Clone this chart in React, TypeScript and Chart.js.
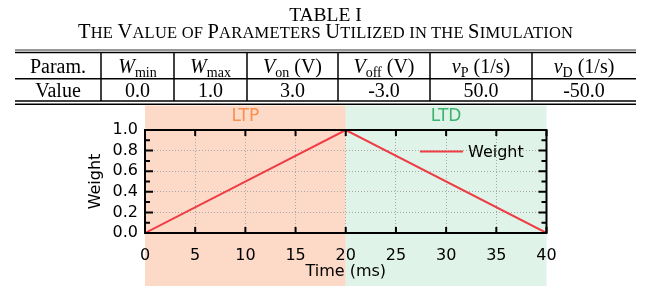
import React, { useEffect, useRef } from 'react';
import { Chart, registerables } from 'chart.js';

Chart.register(...registerables);

// ---------- data ----------
const timeMs = [0, 20, 40];
const weight = [0, 1, 0];
const seriesLabel = 'Weight';
const phaseNames = ['LTP', 'LTD'];
const phaseStart = [0, 20];
const phaseEnd = [20, 40];
const xTitle = 'Time (ms)';
const yTitle = 'Weight';

const tableTitle = 'TABLE I';
const tableCaption = 'The Value of Parameters Utilized in the Simulation';
const rowHeaderParam = 'Param.';
const rowHeaderValue = 'Value';
const paramSymbols = ['W', 'W', 'V', 'V', 'v', 'v'];
const paramSubs = ['min', 'max', 'on', 'off', 'P', 'D'];
const paramUnits = ['', '', ' (V)', ' (V)', ' (1/s)', ' (1/s)'];
const paramValues = [0.0, 1.0, 3.0, -3.0, 50.0, -50.0];

// ---------- styles ----------
const phaseFill = ['#fdd9c7', '#dff3e8'];
const phaseTextColor = ['#f8914f', '#3db46f'];
const lineColor = '#ee3d45';
const sans = "'DejaVu Sans', sans-serif";
const serif = "'Liberation Serif', 'Times New Roman', serif";

const decorPlugin = {
  id: 'decor',
  beforeDraw(chart: any) {
    const { ctx, chartArea, scales } = chart;
    const x = scales.x;
    ctx.save();
    const shadeTop = chartArea.top - 24.5;
    phaseNames.forEach((name, i) => {
      const x0 = x.getPixelForValue(phaseStart[i]);
      const x1 = x.getPixelForValue(phaseEnd[i]);
      ctx.fillStyle = phaseFill[i];
      ctx.fillRect(x0, shadeTop, x1 - x0, chart.height - shadeTop);
      ctx.fillStyle = phaseTextColor[i];
      ctx.font = `17px ${sans}`;
      ctx.textAlign = 'center';
      ctx.textBaseline = 'middle';
      ctx.fillText(name, (x0 + x1) / 2, chartArea.top - 13);
    });
    ctx.restore();
  },
  afterDatasetsDraw(chart: any) {
    const { ctx, chartArea, scales } = chart;
    const { left, right, top, bottom } = chartArea;
    const x = scales.x;
    const y = scales.y;
    ctx.save();
    ctx.strokeStyle = '#000';
    ctx.lineWidth = 2;
    ctx.beginPath();
    x.ticks.forEach((t: any) => {
      const px = x.getPixelForValue(t.value);
      ctx.moveTo(px, bottom);
      ctx.lineTo(px, bottom - 6);
      ctx.moveTo(px, top);
      ctx.lineTo(px, top + 6);
    });
    const yt = y.ticks.map((t: any) => t.value);
    yt.forEach((v: number, i: number) => {
      const py = y.getPixelForValue(v);
      ctx.moveTo(left, py);
      ctx.lineTo(left + 8, py);
      ctx.moveTo(right, py);
      ctx.lineTo(right - 8, py);
      if (i < yt.length - 1) {
        const pm = y.getPixelForValue((v + yt[i + 1]) / 2);
        ctx.moveTo(left, pm);
        ctx.lineTo(left + 5, pm);
        ctx.moveTo(right, pm);
        ctx.lineTo(right - 5, pm);
      }
    });
    ctx.stroke();
    ctx.strokeRect(left, top, right - left, bottom - top);

    const ly = top + 21.5;
    ctx.strokeStyle = lineColor;
    ctx.lineWidth = 2;
    ctx.beginPath();
    ctx.moveTo(right - 126.5, ly);
    ctx.lineTo(right - 83.5, ly);
    ctx.stroke();
    ctx.fillStyle = '#000';
    ctx.font = `16px ${sans}`;
    ctx.textAlign = 'left';
    ctx.textBaseline = 'middle';
    ctx.fillText(chart.data.datasets[0].label, right - 78.5, ly + 1);
    ctx.restore();
  },
};

const near = (a: number, b: number) => Math.abs(a - b) < 1e-6;

function WeightChart() {
  const ref = useRef<HTMLCanvasElement>(null);
  useEffect(() => {
    if (!ref.current) return;
    const chart = new Chart(ref.current, {
      type: 'line',
      data: {
        datasets: [
          {
            label: seriesLabel,
            data: timeMs.map((t, i) => ({ x: t, y: weight[i] })),
            borderColor: lineColor,
            borderWidth: 2,
            pointRadius: 0,
            fill: false,
            tension: 0,
          },
        ],
      },
      options: {
        animation: false,
        responsive: false,
        devicePixelRatio: 1,
        layout: { padding: { left: 0, right: 104.5, top: 130, bottom: 0 } },
        plugins: { legend: { display: false }, tooltip: { enabled: false } },
        scales: {
          x: {
            type: 'linear',
            min: 0,
            max: 40,
            ticks: {
              stepSize: 5,
              autoSkip: false,
              color: '#000',
              font: { family: sans, size: 16 },
              padding: 13,
              maxRotation: 0,
            },
            grid: {
              drawTicks: false,
              lineWidth: 1,
              color: (c: any) =>
                near(c.tick.value, 0) || near(c.tick.value, 40) ? 'rgba(0,0,0,0)' : '#a8a8a8',
            },
            border: { display: false, dash: [1, 2] },
            title: {
              display: true,
              text: xTitle,
              color: '#000',
              font: { family: sans, size: 16 },
              padding: { top: 0, bottom: 4.5 },
            },
            afterFit: (s: any) => {
              s.height = 53;
            },
          },
          y: {
            type: 'linear',
            min: 0,
            max: 1,
            ticks: {
              stepSize: 0.2,
              autoSkip: false,
              color: '#000',
              font: { family: sans, size: 16 },
              padding: 7,
              callback: (v: any) => Number(v).toFixed(1),
            },
            grid: {
              drawTicks: false,
              lineWidth: 1,
              color: (c: any) =>
                near(c.tick.value, 0) || near(c.tick.value, 1) ? 'rgba(0,0,0,0)' : '#a8a8a8',
            },
            border: { display: false, dash: [1, 2] },
            title: {
              display: true,
              text: yTitle,
              color: '#000',
              font: { family: sans, size: 16 },
              padding: { top: 86, bottom: 0 },
            },
            afterFit: (s: any) => {
              s.width = 145;
            },
          },
        },
      },
      plugins: [decorPlugin],
    } as any);
    return () => chart.destroy();
  }, []);
  return (
    <canvas
      ref={ref}
      width={651}
      height={286}
      style={{ position: 'absolute', left: 0, top: 0, width: 651, height: 286 }}
    />
  );
}

function SmallCapsCaption({ text, x, y }: { text: string; x: number; y: number }) {
  const words = text.split(' ');
  const parts: React.ReactNode[] = [];
  words.forEach((w, wi) => {
    const first = w[0];
    const isUpper = first === first.toUpperCase();
    const tail = (isUpper ? w.slice(1) : w).toUpperCase() + (wi < words.length - 1 ? ' ' : '');
    if (isUpper) {
      parts.push(
        <tspan key={wi + 'a'} fontSize={20.5}>
          {first}
        </tspan>
      );
    }
    parts.push(
      <tspan key={wi + 'b'} fontSize={16.5}>
        {tail}
      </tspan>
    );
  });
  return (
    <text x={x} y={y} textAnchor="middle" fill="#000" textLength={495} lengthAdjust="spacing" style={{ whiteSpace: 'pre' }}>
      {parts}
    </text>
  );
}

function ParamTable() {
  const colEdges = [15, 101, 174, 247, 338, 430, 532, 636];
  const centers = colEdges.slice(0, -1).map((e, i) => (e + colEdges[i + 1]) / 2);
  const row1 = 73.3;
  const row2 = 96.7;
  return (
    <svg
      width={651}
      height={286}
      style={{ position: 'absolute', left: 0, top: 0, pointerEvents: 'none' }}
      fontFamily={serif}
    >
      <text x={325.5} y={20.5} fontSize={19.5} textAnchor="middle" fill="#000">
        {tableTitle}
      </text>
      <SmallCapsCaption text={tableCaption} x={325.5} y={38.4} />
      <line x1={15} x2={636} y1={50} y2={50} stroke="#333" strokeWidth={1} />
      <line x1={15} x2={636} y1={52.5} y2={52.5} stroke="#000" strokeWidth={1.3} />
      <line x1={15} x2={636} y1={78.7} y2={78.7} stroke="#000" strokeWidth={1.6} />
      <line x1={15} x2={636} y1={101} y2={101} stroke="#000" strokeWidth={1.4} />
      <line x1={15} x2={636} y1={104.2} y2={104.2} stroke="#000" strokeWidth={1.4} />
      {colEdges.slice(1, -1).map((e) => (
        <line key={e} x1={e} x2={e} y1={52.5} y2={101} stroke="#000" strokeWidth={1.5} />
      ))}
      <text x={centers[0]} y={row1} fontSize={20} textAnchor="middle">
        {rowHeaderParam}
      </text>
      <text x={centers[0]} y={row2} fontSize={20} textAnchor="middle">
        {rowHeaderValue}
      </text>
      {paramSymbols.map((s, i) => (
        <text key={'h' + i} x={centers[i + 1]} y={row1} fontSize={20} textAnchor="middle">
          <tspan fontStyle="italic">{s}</tspan>
          <tspan fontSize={14} dy={4}>
            {paramSubs[i]}
          </tspan>
          {paramUnits[i] ? <tspan dy={-4}>{paramUnits[i]}</tspan> : null}
        </text>
      ))}
      {paramValues.map((v, i) => (
        <text key={'v' + i} x={centers[i + 1]} y={row2} fontSize={20} textAnchor="middle">
          {v.toFixed(1)}
        </text>
      ))}
    </svg>
  );
}

export default function App() {
  return (
    <div
      style={{
        position: 'fixed',
        left: 0,
        top: 0,
        width: 651,
        height: 286,
        background: '#fff',
        overflow: 'hidden',
      }}
    >
      <WeightChart />
      <ParamTable />
    </div>
  );
}
